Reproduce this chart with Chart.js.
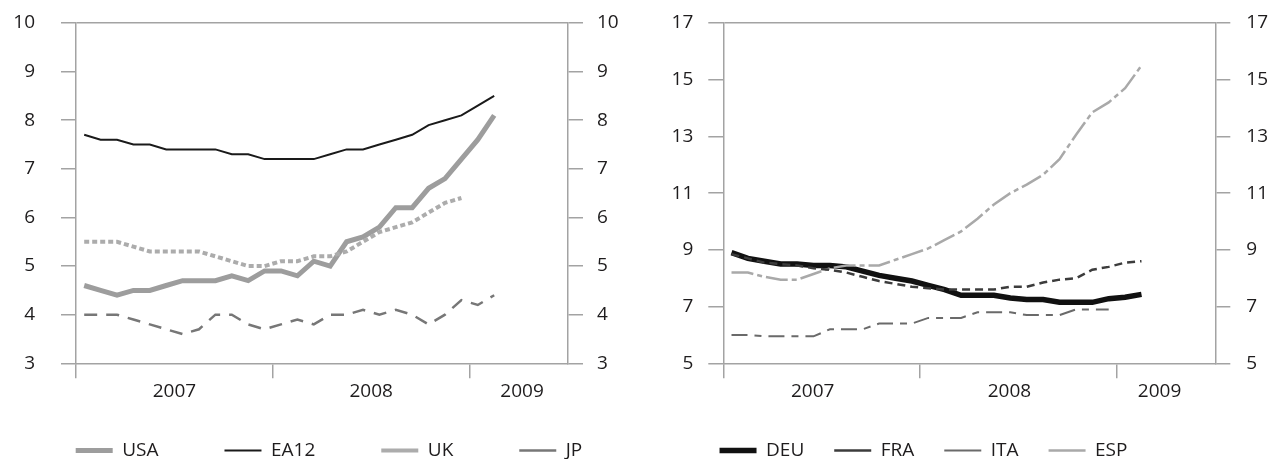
<!DOCTYPE html>
<html>
<head>
<meta charset="utf-8">
<script src="https://cdn.jsdelivr.net/npm/chart.js@4"></script>
<style>
html, body { margin: 0; padding: 0; background: #fff; overflow: hidden; width: 1269px; height: 459px; }
canvas { position: absolute; top: 0; }
#left { left: 0; }
#right { left: 578px; }
</style>
</head>
<body>
<canvas id="left" width="658" height="470"></canvas>
<canvas id="right" width="691" height="470"></canvas>
<script>
// monthly, Jan 2007 .. Feb 2009
var months = ['2007-01','2007-02','2007-03','2007-04','2007-05','2007-06','2007-07','2007-08','2007-09','2007-10','2007-11','2007-12',
              '2008-01','2008-02','2008-03','2008-04','2008-05','2008-06','2008-07','2008-08','2008-09','2008-10','2008-11','2008-12',
              '2009-01','2009-02'];
var years = ['2007', '2008', '2009'];
var yearBounds = [0, 12, 24];       // tick marks on the x axis

// left panel
var usa  = [4.6,4.5,4.4,4.5,4.5,4.6,4.7,4.7,4.7,4.8,4.7,4.9,4.9,4.8,5.1,5.0,5.5,5.6,5.8,6.2,6.2,6.6,6.8,7.2,7.6,8.1];
var ea12 = [7.7,7.6,7.6,7.5,7.5,7.4,7.4,7.4,7.4,7.3,7.3,7.2,7.2,7.2,7.2,7.3,7.4,7.4,7.5,7.6,7.7,7.9,8.0,8.1,8.3,8.5];
var uk   = [5.5,5.5,5.5,5.4,5.3,5.3,5.3,5.3,5.2,5.1,5.0,5.0,5.1,5.1,5.2,5.2,5.3,5.5,5.7,5.8,5.9,6.1,6.3,6.4];
var jp   = [4.0,4.0,4.0,3.9,3.8,3.7,3.6,3.7,4.0,4.0,3.8,3.7,3.8,3.9,3.8,4.0,4.0,4.1,4.0,4.1,4.0,3.8,4.0,4.3,4.2,4.4];

// right panel
var deu = [8.9,8.7,8.6,8.5,8.5,8.45,8.45,8.4,8.25,8.1,8.0,7.9,7.75,7.6,7.4,7.4,7.4,7.3,7.25,7.25,7.15,7.15,7.15,7.28,7.33,7.43];
var fra = [8.85,8.7,8.55,8.5,8.45,8.35,8.3,8.2,8.05,7.9,7.8,7.7,7.65,7.6,7.6,7.6,7.6,7.7,7.7,7.85,7.95,8.0,8.3,8.4,8.55,8.6];
var ita = [6.0,6.0,5.95,5.95,5.95,5.95,6.2,6.2,6.2,6.4,6.4,6.4,6.6,6.6,6.6,6.8,6.8,6.8,6.7,6.7,6.7,6.9,6.9,6.9];
var esp = [8.2,8.2,8.05,7.95,7.95,8.15,8.35,8.45,8.45,8.45,8.65,8.85,9.05,9.35,9.65,10.1,10.6,11.0,11.3,11.65,12.2,13.05,13.85,14.2,14.7,15.5];

var GRID = '#a3a3a3';
var TEXT = '#1e1c1d';
var FONT = { family: "'Open Sans', 'Noto Sans', sans-serif", size: 19 };
var NONE = 'rgba(0,0,0,0)';

function series(vals) {
    // put each month in the middle of its slot
    return vals.map(function (v, i) { return { x: i + 0.5, y: v, m: months[i] }; });
}

function line(label, vals, color, width, dash, order) {
    return {
        label: label, data: series(vals), borderColor: color, backgroundColor: color,
        borderWidth: width, borderDash: dash, order: order, pointRadius: 0, fill: false
    };
}

function yAxis(pos, min, max, step, width, pad, drawTop) {
    return {
        type: 'linear', position: pos, min: min, max: max,
        afterFit: function (s) { s.width = width; s.paddingTop = 0; s.paddingBottom = 0; },
        ticks: { stepSize: step, padding: pad, color: TEXT, font: FONT },
        grid: {
            drawOnChartArea: drawTop, tickLength: 15, lineWidth: 1.5, tickColor: GRID,
            color: function (c) { return c.tick && c.tick.value === max ? GRID : NONE; }
        },
        border: { color: GRID, width: 1.5 }
    };
}

function panel(id, datasets, yMin, yMax, yStep, g) {
    return new Chart(document.getElementById(id), {
        type: 'line',
        data: { datasets: datasets },
        options: {
            responsive: false,
            animation: false,
            layout: { padding: { top: 23, left: 0, right: 0, bottom: 0 } },
            elements: { line: { tension: 0 } },
            plugins: {
                tooltip: { enabled: false },
                legend: {
                    position: 'bottom',
                    labels: {
                        usePointStyle: true, pointStyle: 'line', pointStyleWidth: 37,
                        padding: g.legendPad, color: TEXT, font: FONT,
                        sort: function (a, b) { return a.datasetIndex - b.datasetIndex; }
                    }
                }
            },
            scales: {
                x: {
                    type: 'linear', min: 0, max: 30,
                    afterBuildTicks: function (s) {
                        s.ticks = yearBounds.concat(g.yearPos, [30]).sort(function (a, b) { return a - b; })
                            .map(function (v) { return { value: v }; });
                    },
                    afterFit: function (s) {
                        s.height = g.xHeight;
                        s._computeLabelArea = function () { return undefined; };   // year labels reach below the squeezed axis box
                    },
                    ticks: {
                        autoSkip: false, maxRotation: 0, padding: 2, color: TEXT, font: FONT,
                        callback: function (v) { var k = g.yearPos.indexOf(v); return k >= 0 ? years[k] : ''; }
                    },
                    grid: {
                        drawOnChartArea: false, tickLength: 15, lineWidth: 1.5,
                        color: function (c) { return c.tick && yearBounds.indexOf(c.tick.value) >= 0 ? GRID : NONE; }
                    },
                    border: { color: GRID, width: 1.5 }
                },
                y: yAxis('left', yMin, yMax, yStep, g.left, g.padL, true),
                y2: yAxis('right', yMin, yMax, yStep, g.right, g.padR, false)
            }
        }
    });
}

panel('left', [
    line('USA', usa, '#9d9d9d', 5, [], 3),
    line('EA12', ea12, '#1a1a1a', 2, [], 1),
    line('UK', uk, '#acacac', 4, [5, 3], 0),
    line('JP', jp, '#777777', 2.5, [13, 9], 2)
], 3, 10, 1, { left: 76, right: 90, padL: 26, padR: 14, legendPad: 66, xHeight: 11.7, yearPos: [6, 18, 27.2] });

panel('right', [
    line('DEU', deu, '#111111', 5.5, [], 3),
    line('FRA', fra, '#3c3c3c', 2.5, [8, 5], 0),
    line('ITA', ita, '#6a6a6a', 2, [16, 7, 7, 7], 2),
    line('ESP', esp, '#a9a9a9', 2.5, [22, 4, 5, 4], 1)
], 5, 17, 2, { left: 145.3, right: 53.7, padL: 15, padR: 16, legendPad: 30, xHeight: 47.7, yearPos: [5.45, 17.45, 26.6] });
</script>
</body>
</html>
